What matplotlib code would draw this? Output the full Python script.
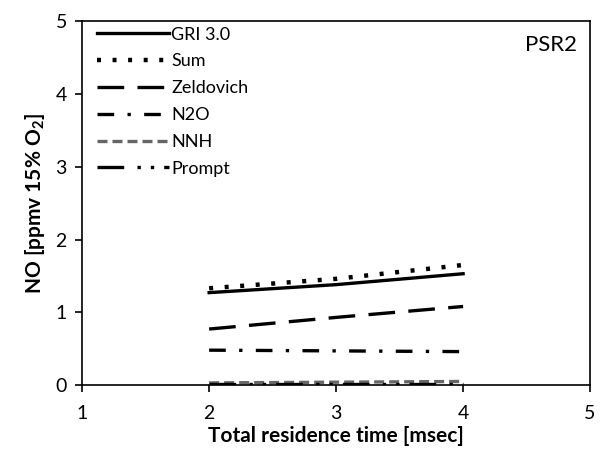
import matplotlib
matplotlib.use("Agg")
import matplotlib.pyplot as plt

plt.rcParams['font.family'] = ['Lato', 'DejaVu Sans']
plt.rcParams['mathtext.fontset'] = 'custom'
plt.rcParams['mathtext.rm'] = 'Lato'
plt.rcParams['mathtext.bf'] = 'Lato:bold'

time_ms = [2, 3, 4]
gri30 = [1.27, 1.38, 1.53]
total_sum = [1.33, 1.46, 1.65]
zeldovich = [0.77, 0.93, 1.08]
n2o = [0.48, 0.47, 0.46]
nnh = [0.03, 0.04, 0.05]
prompt = [0.02, 0.02, 0.02]

series_labels = ["GRI 3.0", "Sum", "Zeldovich", "N2O", "NNH", "Prompt"]

fig = plt.figure(figsize=(6.04, 4.59), dpi=100)
ax = fig.add_axes([0.136, 0.161, 0.841, 0.793])

lw = 2.4
ax.plot(time_ms, gri30, color='black', lw=lw, ls='-', label=series_labels[0])
ax.plot(time_ms, total_sum, color='black', lw=lw + 0.8, ls=(0, (0.9, 2.6)), label=series_labels[1])
ax.plot(time_ms, zeldovich, color='black', lw=lw, ls=(0, (8, 4)), label=series_labels[2])
ax.plot(time_ms, n2o, color='black', lw=lw, ls=(0, (5, 4, 1, 4)), label=series_labels[3])
ax.plot(time_ms, nnh, color='#666666', lw=lw, ls=(0, (3, 1.5)), label=series_labels[4])
ax.plot(time_ms, prompt, color='black', lw=lw, ls=(0, (8, 4, 1, 3, 1, 3)), label=series_labels[5])

ax.set_xlim(1, 5)
ax.set_ylim(0, 5)
ax.set_xticks([1, 2, 3, 4, 5])
ax.set_yticks([0, 1, 2, 3, 4, 5])
ax.tick_params(direction='out', length=5, width=1.2, labelsize=14, colors='black', pad=6)
ax.tick_params(axis='x', pad=9)
for s in ax.spines.values():
    s.set_linewidth(1.2)

ax.set_xlabel("Total residence time [msec]", fontsize=15, fontweight='bold', labelpad=3)
ax.set_ylabel("NO [ppmv 15% O$_\\mathbf{2}$]", fontsize=15, fontweight='bold', labelpad=6)

ax.text(0.975, 0.935, "PSR2", transform=ax.transAxes, ha='right', va='center', fontsize=16)

leg = ax.legend(loc='upper left', frameon=False, fontsize=13, handlelength=4.0,
                handletextpad=0.1, labelspacing=0.6, borderaxespad=0.0,
                bbox_to_anchor=(0.015, 1.005))

fig.savefig("out.png", dpi=100)
